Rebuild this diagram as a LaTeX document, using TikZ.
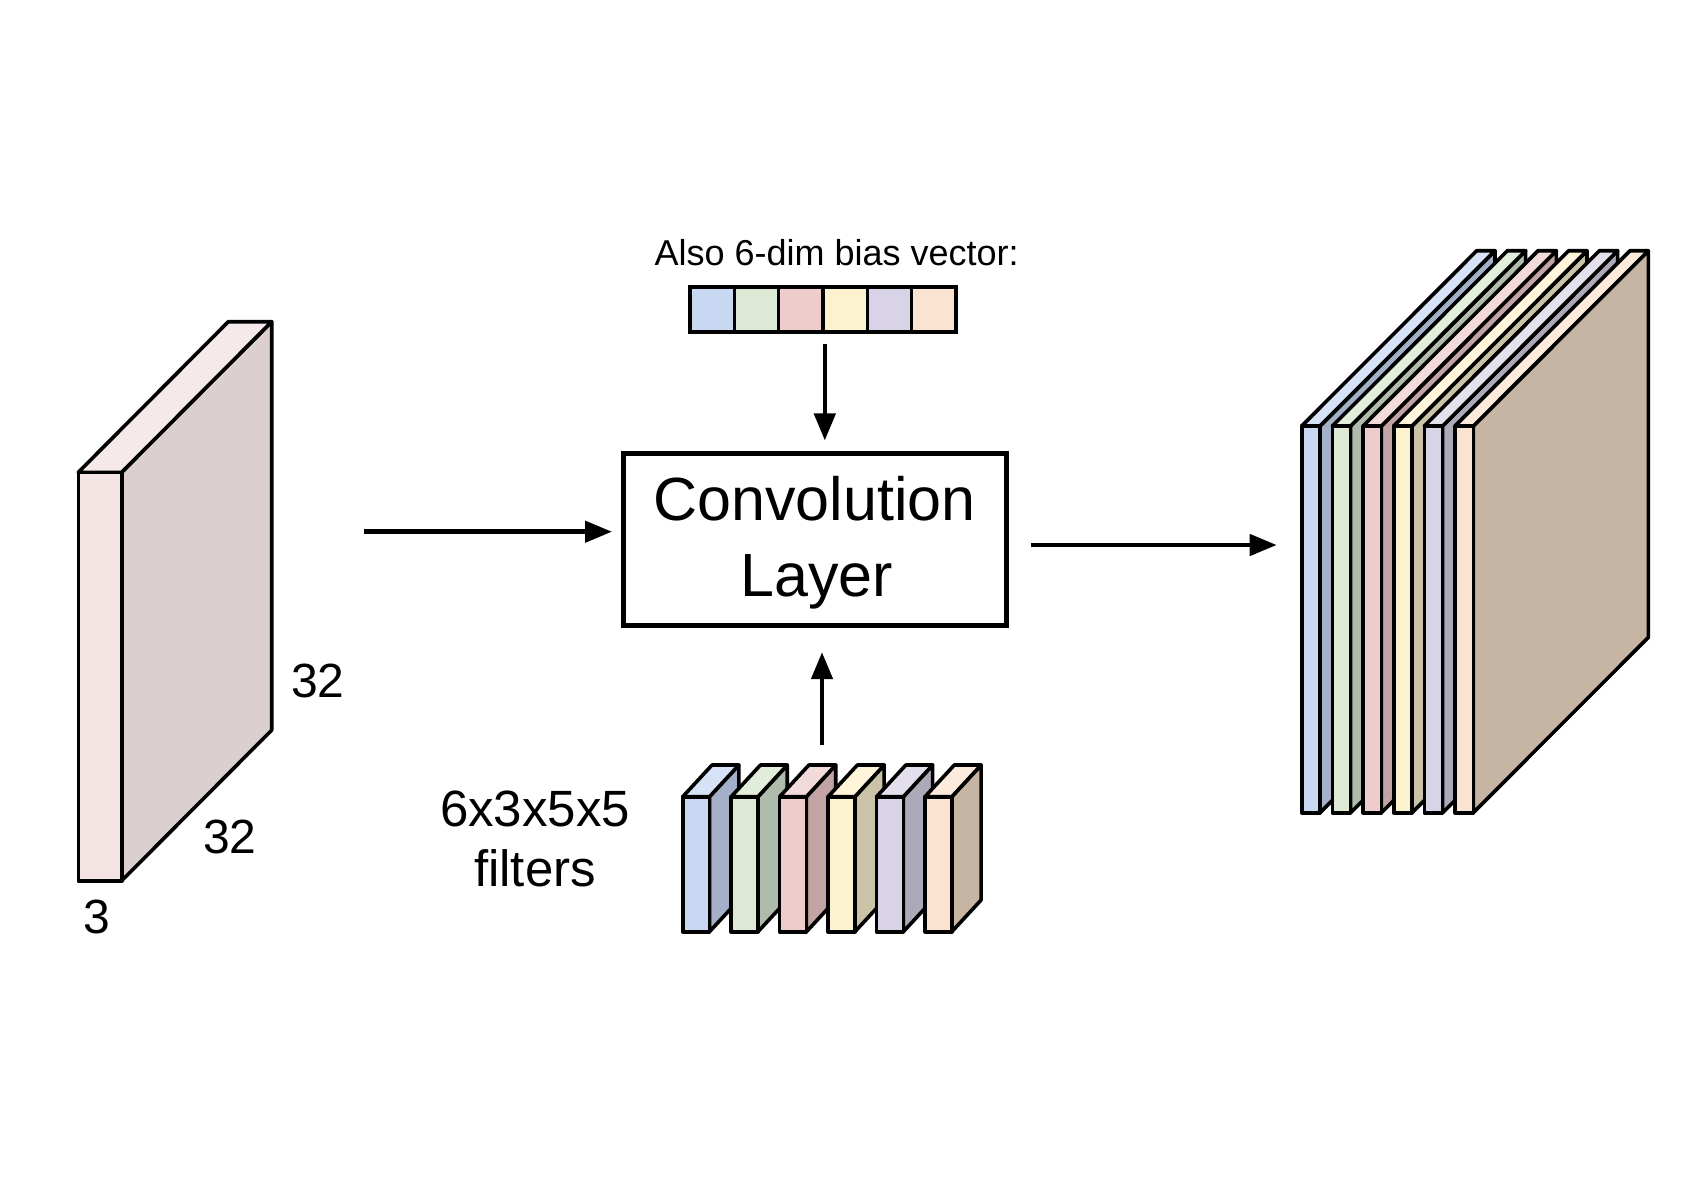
\documentclass[tikz,border=0pt]{standalone}
\usepackage{fontspec}
\setmainfont{Liberation Sans}
\usetikzlibrary{arrows.meta}
\definecolor{lF}{HTML}{F5E4E4}\definecolor{lT}{HTML}{F6E9E9}\definecolor{lS}{HTML}{DCCFCF}
\definecolor{bF}{HTML}{C9D8F2}\definecolor{bT}{HTML}{D6E2F6}\definecolor{bS}{HTML}{A3B0C7}
\definecolor{gF}{HTML}{DDE8D5}\definecolor{gT}{HTML}{E3EDDC}\definecolor{gS}{HTML}{B0BCAB}
\definecolor{pF}{HTML}{EECCCB}\definecolor{pT}{HTML}{F3DADA}\definecolor{pS}{HTML}{C3A4A4}
\definecolor{yF}{HTML}{FDF2D0}\definecolor{yT}{HTML}{FEF5DB}\definecolor{yS}{HTML}{CAC3A7}
\definecolor{vF}{HTML}{D8D3E7}\definecolor{vT}{HTML}{E3DFEC}\definecolor{vS}{HTML}{ADA9B9}
\definecolor{oF}{HTML}{FAE4D1}\definecolor{oT}{HTML}{FCEBDC}\definecolor{oS}{HTML}{C6B5A2}
% #1 x, #2 ytop, #3 width, #4 height, #5 depth dx, #6 depth dy (up), #7 front, #8 top, #9 side
\newcommand{\myslab}[9]{%
  \filldraw[blk, fill=#9] (#1+#3,#2) -- (#1+#3+#5,#2-#6) -- (#1+#3+#5,#2+#4-#6) -- (#1+#3,#2+#4) -- cycle;
  \filldraw[blk, fill=#8] (#1,#2) -- (#1+#5,#2-#6) -- (#1+#3+#5,#2-#6) -- (#1+#3,#2) -- cycle;
  \filldraw[blk, fill=#7] (#1,#2) rectangle (#1+#3,#2+#4);
}
\begin{document}
\begin{tikzpicture}[x=0.5pt,y=-0.5pt,
  blk/.style={draw=black, line width=1.8pt, line join=round},
  arr/.style={line width=2.3pt, -{Triangle[length=13.5pt,width=10.5pt]}},
  cell/.style={draw=black, line width=1.8pt, minimum width=22.17pt, minimum height=22.5pt, inner sep=0pt},
  lbl/.style={anchor=base, font=\fontsize{24}{28}\selectfont},
  big/.style={anchor=base, font=\fontsize{30.5}{36}\selectfont},
  mid/.style={anchor=base, font=\fontsize{25.5}{30}\selectfont}]
\fill[white] (0,0) rectangle (1684,1190);
\useasboundingbox (0,0) rectangle (1684,1190);

% input volume
\myslab{78.3}{472.3}{43.4}{408.4}{150}{150.6}{lF}{lT}{lS}
\node[lbl] (dimh) at (318,697) {32};
\node[lbl] (dimw) at (230,853) {32};
\node[lbl] (dimd) at (97,933) {3};

% convolution layer box
\node[draw=black, line width=2.5pt, minimum width=191.7pt, minimum height=85.85pt,
      inner sep=0pt] (conv) at (815,539.2) {};
\node[big] (convA) at (814.5,520.5) {Convolution};
\node[big] (convB) at (816.5,596) {Layer};

% bias vector
\node[anchor=base, font=\fontsize{18}{21}\selectfont] (biastitle) at (836.7,265) {Also 6-dim bias vector:};
\foreach \i/\c in {1/bF,2/gF,3/pF,4/yF,5/vF,6/oF}
  {\node[cell, fill=\c] (b\i) at ({690+44.33*(\i-0.5)},309.2) {};}

% filters
\foreach \i/\cf/\ct/\cs in {0/bF/bT/bS,1/gF/gT/gS,2/pF/pT/pS,3/yF/yT/yS,4/vF/vT/vS,5/oF/oT/oS}
  {\myslab{682.7+48.46*\i}{796.7}{26.8}{135}{29.3}{31.7}{\cf}{\ct}{\cs}}
\node[mid] (filtA) at (535,826) {6x3x5x5};
\node[mid] (filtB) at (535,886.7) {filters};

% output volume
\foreach \i/\cf/\ct/\cs in {0/bF/bT/bS,1/gF/gT/gS,2/pF/pT/pS,3/yF/yT/yS,4/vF/vT/vS,5/oF/oT/oS}
  {\myslab{1301.7+30.66*\i}{426}{18.3}{386.7}{175}{175.3}{\cf}{\ct}{\cs}}

% connectors
\coordinate (inR) at (364,531.7);
\coordinate (outL) at (1276.7,545);
\coordinate (filtop) at (822,745);
\draw[arr, shorten >=4.4pt] (inR) -- (inR -| conv.west);
\draw[arr, shorten <=11.1pt] (outL -| conv.east) -- (outL);
\draw[arr, shorten >=12.3pt] (filtop) -- (filtop |- conv.south);
\draw[arr, shorten <=5pt, shorten >=5.2pt] (b3.south east) -- (b3.south east |- conv.north);
\end{tikzpicture}
\end{document}
